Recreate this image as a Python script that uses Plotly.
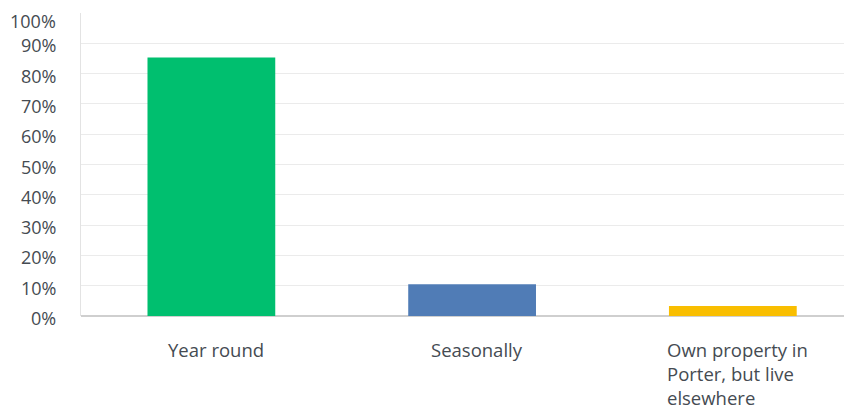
import plotly.graph_objects as go

categories = ["Year round", "Seasonally", "Own property in<br>Porter, but live<br>elsewhere"]
values = [85.3, 10.5, 3.3]
colors = ["#00bf6f", "#507cb6", "#f9be00"]
y_ticks = list(range(0, 101, 10))
y_tick_labels = [f"{v}%" for v in y_ticks]

fig = go.Figure()
fig.add_trace(go.Bar(
    x=list(range(len(categories))),
    y=values,
    marker=dict(color=colors, line=dict(width=0)),
    width=0.49,
    hoverinfo="skip",
))

font_family = "Open Sans, sans-serif"
text_color = "#454b52"

# category labels (multi-line, left-aligned within a centred block)
for i, cat in enumerate(categories):
    fig.add_annotation(
        x=i, xref="x", y=0, yref="paper",
        yshift=-19, xshift=5,
        text=cat, showarrow=False,
        xanchor="center", yanchor="top", align="left",
        font=dict(family=font_family, size=18.5, color=text_color),
    )

# y tick labels (drawn as annotations so the top one is not hidden)
top = max(y_ticks)
for v, lab in zip(y_ticks, y_tick_labels):
    fig.add_annotation(
        x=0, xref="paper", y=v, yref="y",
        xshift=-23, yshift=-8 if v == top else -2,
        text=lab, showarrow=False,
        xanchor="right", yanchor="middle",
        font=dict(family=font_family, size=18, color=text_color),
    )

fig.update_layout(
    width=844, height=406,
    margin=dict(l=73, r=0, t=5, b=98, autoexpand=False),
    paper_bgcolor="white", plot_bgcolor="white",
    showlegend=False,
    bargap=0.5,
    font=dict(family=font_family, size=18, color=text_color),
    xaxis=dict(
        range=[-0.5, 2.457],
        showticklabels=False,
        showgrid=False,
        zeroline=False,
        showline=False,
        ticks="",
        automargin=False,
    ),
    yaxis=dict(
        range=[0, 100],
        tickvals=y_ticks,
        showticklabels=False,
        showgrid=True,
        gridcolor="#ebebeb",
        gridwidth=1,
        zeroline=True,
        zerolinecolor="#cfcfcf",
        zerolinewidth=1.5,
        showline=True,
        linecolor="#e3e3e3",
        linewidth=1,
        ticks="",
        automargin=False,
    ),
)

fig.write_html("out.html")
